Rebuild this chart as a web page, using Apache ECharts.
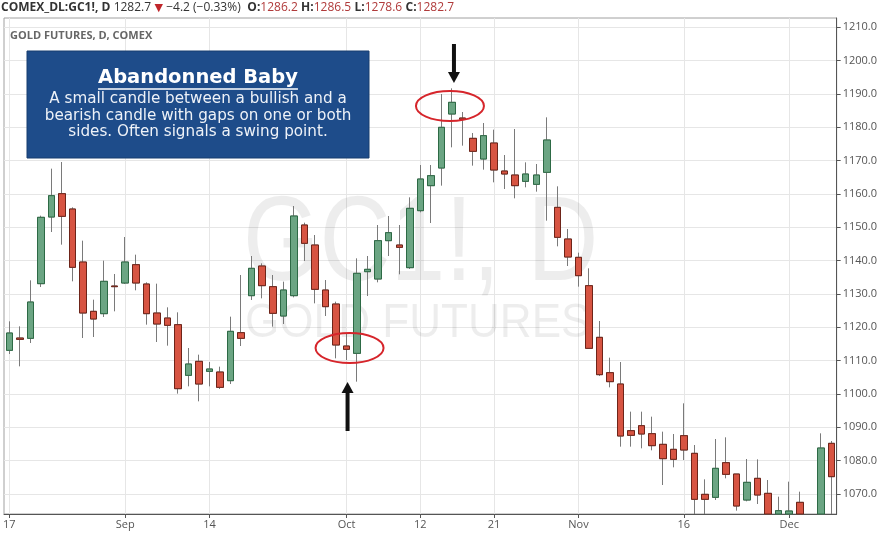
<!DOCTYPE html>
<html><head><meta charset="utf-8">
<script src="https://cdn.jsdelivr.net/npm/echarts@6/dist/echarts.min.js"></script>
<style>html,body{margin:0;padding:0;background:#fff}#c{width:880px;height:535px}</style>
</head><body><div id="c"></div>
<script>
const dates = [
 '2015-08-17','2015-08-18','2015-08-19','2015-08-20','2015-08-21','2015-08-24','2015-08-25','2015-08-26','2015-08-27','2015-08-28','2015-08-31',
 '2015-09-01','2015-09-02','2015-09-03','2015-09-04','2015-09-08','2015-09-09','2015-09-10','2015-09-11',
 '2015-09-14','2015-09-15','2015-09-16','2015-09-17','2015-09-18','2015-09-21','2015-09-22','2015-09-23','2015-09-24','2015-09-25',
 '2015-09-28','2015-09-29','2015-09-30','2015-10-01','2015-10-02','2015-10-05','2015-10-06','2015-10-07','2015-10-08','2015-10-09',
 '2015-10-12','2015-10-13','2015-10-14','2015-10-15','2015-10-16','2015-10-19','2015-10-20','2015-10-21','2015-10-22','2015-10-23',
 '2015-10-26','2015-10-27','2015-10-28','2015-10-29','2015-10-30','2015-11-02','2015-11-03','2015-11-04','2015-11-05','2015-11-06',
 '2015-11-09','2015-11-10','2015-11-11','2015-11-12','2015-11-13','2015-11-16','2015-11-17','2015-11-18','2015-11-19','2015-11-20',
 '2015-11-23','2015-11-24','2015-11-25','2015-11-27','2015-11-30','2015-12-01','2015-12-02','2015-12-03','2015-12-04','2015-12-07'
];
const opens = [1113.1,1116.8,1116.7,1133.1,1153.1,1160.1,1155.5,1139.6,1124.8,1124.1,1132.4,
 1133.3,1138.8,1133.0,1124.3,1122.8,1120.8,1105.6,1109.8,
 1106.8,1106.6,1104.0,1118.4,1129.5,1138.4,1132.2,1123.4,1129.5,1150.7,
 1144.7,1131.2,1127.0,1114.4,1112.2,1136.7,1134.5,1146.0,1144.7,1137.9,
 1155.0,1162.5,1167.8,1184.0,1182.8,1176.7,1170.5,1175.3,1166.9,1165.7,
 1163.8,1162.9,1166.5,1156.0,1146.5,1141.0,1132.5,1117.0,1106.4,1103.0,
 1089.0,1090.5,1088.1,1084.9,1083.4,1087.5,1082.2,1069.9,1069.0,1079.4,
 1076.0,1068.2,1074.7,1070.2,1060.0,1061.0,1067.5,1053.0,1053.0,1085.2];
const highs = [1121.8,1120.3,1134.1,1153.5,1167.6,1169.6,1156.0,1146.0,1128.3,1140.0,1136.0,
 1147.1,1141.8,1133.5,1133.1,1126.0,1124.5,1113.8,1111.8,
 1109.6,1108.2,1123.2,1135.7,1141.4,1139.2,1135.7,1133.7,1156.4,1151.4,
 1147.7,1134.2,1127.7,1118.0,1140.7,1141.4,1150.7,1153.4,1150.7,1159.0,
 1168.7,1168.7,1190.0,1191.7,1184.6,1178.3,1181.3,1179.3,1171.7,1179.5,
 1169.5,1169.0,1183.0,1162.3,1149.5,1142.4,1137.7,1121.9,1110.9,1109.6,
 1094.7,1094.7,1093.2,1088.7,1088.0,1097.2,1084.7,1074.4,1086.5,1087.0,
 1076.0,1080.5,1080.4,1074.2,1069.2,1073.7,1070.7,1058.0,1088.2,1085.9];
const lows = [1112.0,1108.3,1115.3,1132.1,1148.6,1144.8,1133.8,1116.8,1117.1,1123.1,1124.8,
 1133.0,1131.1,1120.8,1115.6,1114.5,1100.1,1102.3,1097.8,
 1102.3,1101.5,1103.0,1114.4,1128.2,1128.7,1120.2,1121.0,1129.0,1139.9,
 1127.2,1123.4,1110.7,1110.2,1103.7,1129.4,1133.5,1141.4,1135.9,1137.5,
 1154.5,1151.3,1162.5,1174.0,1174.5,1168.5,1167.3,1163.5,1161.5,1158.7,
 1162.0,1160.7,1152.0,1144.3,1138.4,1132.2,1113.5,1105.4,1102.0,1084.2,
 1084.2,1083.7,1083.1,1072.7,1078.0,1080.2,1062.0,1062.5,1068.2,1074.7,
 1065.0,1067.8,1067.0,1060.0,1058.0,1059.0,1052.0,1046.0,1051.5,1061.0];
const closes = [1118.3,1116.4,1127.6,1153.0,1159.5,1153.3,1138.0,1124.3,1122.5,1133.8,1132.2,
 1139.6,1133.3,1124.1,1121.0,1120.6,1101.6,1109.0,1103.0,
 1107.5,1102.0,1118.8,1116.7,1137.7,1132.5,1124.2,1131.2,1153.4,1145.2,
 1131.4,1126.2,1114.7,1113.4,1136.2,1137.4,1146.0,1148.4,1144.0,1155.7,
 1164.5,1165.5,1180.0,1187.5,1182.4,1172.8,1177.5,1167.2,1166.0,1162.5,
 1166.0,1165.7,1176.2,1147.0,1141.1,1135.5,1113.7,1105.8,1103.7,1087.4,
 1087.6,1088.0,1084.5,1080.6,1080.4,1083.2,1068.4,1068.4,1077.7,1075.9,
 1066.4,1073.5,1069.7,1062.0,1065.0,1064.9,1053.0,1052.0,1083.8,1075.2];
const tickDates = ['2015-08-17','2015-09-01','2015-09-14','2015-10-01','2015-10-12','2015-10-21','2015-11-02','2015-11-16','2015-12-01'];
const tickLabels = ['17','Sep','14','Oct','12','21','Nov','16','Dec'];
const yTicks = [1070,1080,1090,1100,1110,1120,1130,1140,1150,1160,1170,1180,1190,1200,1210];
const yMin = 1064, yMax = 1212.8;
const lastPrice = 1075.2;
const babyTopIdx = 42, babyBottomIdx = 32;

const UP = '#6ba583', DOWN = '#d75442';
const chart = echarts.init(document.getElementById('c'), null, {renderer: 'canvas'});
// candles are clipped at the bottom of the visible price range (as the reference chart crops them)
const cl = v => Math.max(v, yMin);
const ohlc = dates.map((d, i) => highs[i] < yMin ? ['-', '-', '-', '-'] :
  [cl(opens[i]), cl(closes[i]), cl(lows[i]), highs[i]]);
const bodies = dates.map((d, i) => highs[i] < yMin ? ['-', '-', '-', '-'] :
  [cl(opens[i]), cl(closes[i]), cl(Math.min(opens[i], closes[i])), cl(Math.max(opens[i], closes[i]))]);
const isTick = (idx, val) => tickDates.indexOf(val) >= 0;

chart.setOption({
  animation: false,
  backgroundColor: '#fff',
  grid: {left: 4, right: 42, top: 18, bottom: 21, show: true, borderColor: '#a0a0a0', borderWidth: 1, backgroundColor: 'transparent'},
  xAxis: {
    type: 'category', data: dates, boundaryGap: true,
    axisLine: {show: true, lineStyle: {color: '#555', width: 1}},
    axisTick: {show: true, interval: isTick, alignWithLabel: true, length: 4, lineStyle: {color: '#555'}},
    axisLabel: {interval: isTick, hideOverlap: false, showMaxLabel: true, showMinLabel: true,
      formatter: v => tickLabels[tickDates.indexOf(v)], color: '#555', fontSize: 11, fontFamily: 'Open Sans', margin: 5},
    splitLine: {show: true, interval: isTick, alignWithLabel: true, lineStyle: {color: '#e6e6e6'}}
  },
  yAxis: {
    type: 'value', position: 'right', min: yMin, max: yMax, scale: true,
    axisLine: {show: true, lineStyle: {color: '#555'}},
    axisTick: {show: true, customValues: yTicks, length: 4, inside: false, lineStyle: {color: '#555'}},
    axisLabel: {customValues: yTicks, formatter: v => v.toFixed(1), color: '#555', fontSize: 11, fontFamily: 'Open Sans', margin: 6},
    splitLine: {show: true, lineStyle: {color: '#e6e6e6'}}
  },
  series: [
    {type: 'candlestick', data: ohlc, barWidth: 7, z: 3, clip: true,
     itemStyle: {color: UP, color0: DOWN, borderColor: '#7a7a7a', borderColor0: '#7a7a7a', borderWidth: 1}},
    {type: 'candlestick', data: bodies, barWidth: 7, z: 4, clip: true,
     itemStyle: {color: UP, color0: DOWN, borderColor: '#2d6a45', borderColor0: '#6e2419', borderWidth: 1},
     markLine: {silent: true, symbol: 'none', animation: false,
       lineStyle: {opacity: 0},
       label: {show: true, position: 'end', distance: 1, formatter: lastPrice.toFixed(1), backgroundColor: '#d9534f', color: '#fff', fontWeight: 'bold', fontSize: 11, fontFamily: 'Open Sans', padding: [2, 6, 1, 4]},
       data: [{yAxis: lastPrice}]}}
  ]
});

function measure(text, font) {
  const ctx = document.createElement('canvas').getContext('2d');
  ctx.font = font; return ctx.measureText(text).width;
}
const toPx = (i, v) => chart.convertToPixel({xAxisIndex: 0, yAxisIndex: 0}, [dates[i], v]);
const pTop = toPx(babyTopIdx, 1186.4);
const pBot = toPx(babyBottomIdx, 1113.8);
const titleFont = 'bold 19.5px "DejaVu Sans"';
const title = 'Abandonned Baby';
const tw = measure(title, titleFont);
const boxCx = 198;
const bodyStyle = {fontFamily: 'DejaVu Sans', fontSize: 15.2, fill: '#eef2f8', align: 'center', verticalAlign: 'middle'};

function arrow(x, tipY, dir, shaftLen) {
  const headH = 11, hw = 6;
  return [
    {type: 'line', z: 60, shape: {x1: x, y1: tipY - dir * (headH + shaftLen), x2: x, y2: tipY - dir * headH}, style: {stroke: '#111', lineWidth: 4}},
    {type: 'polygon', z: 60, shape: {points: [[x - hw, tipY - dir * headH], [x + hw, tipY - dir * headH], [x, tipY]]}, style: {fill: '#111'}}
  ];
}

chart.setOption({
  graphic: [
    {type: 'text', z: 50, left: 1, top: 2, style: {
      text: '{b|COMEX_DL:GC1!, D} {n|1282.7} {t|▼} {n|\u22124.2 (\u22120.33%)}  {b|O:}{r|1286.2} {b|H:}{r|1286.5} {b|L:}{r|1278.6} {b|C:}{r|1282.7}',
      rich: {
        b: {fontFamily: 'Open Sans', fontSize: 12, fontWeight: 'bold', fill: '#333'},
        n: {fontFamily: 'Open Sans', fontSize: 12, fill: '#333'},
        t: {fontFamily: 'DejaVu Sans', fontSize: 11, fill: '#c0262b'},
        r: {fontFamily: 'Open Sans', fontSize: 12, fill: '#b03a3a'}
      }}},
    {type: 'text', z: 50, left: 10, top: 30, style: {text: 'GOLD FUTURES, D, COMEX', fontFamily: 'Open Sans', fontSize: 11, fontWeight: 'bold', fill: '#666'}},
    {type: 'text', z: 1, x: 243, y: 187, scaleX: 0.82, style: {text: 'GC1!, D', fontFamily: 'Liberation Sans', fontSize: 120, fill: 'rgba(0,0,0,0.07)'}},
    {type: 'text', z: 1, x: 245, y: 299, scaleX: 0.9, style: {text: 'GOLD FUTURES', fontFamily: 'Liberation Sans', fontSize: 49, fill: 'rgba(0,0,0,0.07)'}},
    {type: 'ellipse', z: 55, shape: {cx: pTop[0] - 2, cy: pTop[1], rx: 34, ry: 15}, style: {fill: 'none', stroke: '#d6252b', lineWidth: 2}},
    {type: 'ellipse', z: 55, shape: {cx: pBot[0] + 3, cy: pBot[1], rx: 34, ry: 15}, style: {fill: 'none', stroke: '#d6252b', lineWidth: 2}},
    ...arrow(pTop[0] + 2, 83, 1, 28),
    ...arrow(pBot[0] + 1, 382, -1, 38),
    {type: 'rect', z: 70, shape: {x: 27, y: 51, width: 342, height: 107}, style: {fill: '#1e4c8a', stroke: '#173c6e', lineWidth: 1}},
    {type: 'text', z: 71, x: boxCx, y: 78, style: {text: title, font: titleFont, fill: '#fff', align: 'center', verticalAlign: 'middle'}},
    {type: 'line', z: 71, shape: {x1: boxCx - tw / 2, y1: 89, x2: boxCx + tw / 2, y2: 89}, style: {stroke: '#fff', lineWidth: 1.5}},
    {type: 'text', z: 71, x: boxCx, y: 99.5, style: Object.assign({text: 'A small candle between a bullish and a'}, bodyStyle)},
    {type: 'text', z: 71, x: boxCx, y: 116, style: Object.assign({text: 'bearish candle with gaps on one or both'}, bodyStyle)},
    {type: 'text', z: 71, x: boxCx, y: 132.5, style: Object.assign({text: 'sides. Often signals a swing point.'}, bodyStyle)}
  ]
});
</script></body></html>
